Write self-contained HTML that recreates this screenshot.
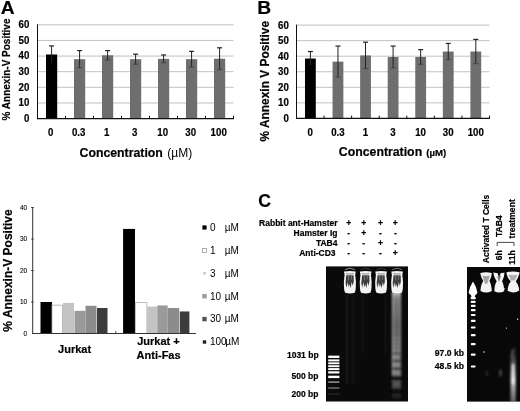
<!DOCTYPE html>
<html><head><meta charset="utf-8"><title>Figure</title>
<style>
html,body{margin:0;padding:0;background:#fff;}
body{width:520px;height:411px;overflow:hidden;font-family:"Liberation Sans",sans-serif;}
svg{display:block;}
text{font-family:"Liberation Sans",sans-serif;fill:#000;}
.b{font-weight:bold;stroke:#000;stroke-width:0.2px;}
</style></head><body>
<svg width="520" height="411" viewBox="0 0 520 411">
<defs>
<filter id="bl05" x="-20%" y="-20%" width="140%" height="140%"><feGaussianBlur stdDeviation="0.5"/></filter>
<filter id="bl1" x="-30%" y="-30%" width="160%" height="160%"><feGaussianBlur stdDeviation="0.9"/></filter>
<filter id="bl2" x="-50%" y="-50%" width="200%" height="200%"><feGaussianBlur stdDeviation="1.6"/></filter>
<filter id="tx" x="0" y="0" width="520" height="411" filterUnits="userSpaceOnUse"><feGaussianBlur stdDeviation="0.3"/></filter>
<linearGradient id="smear" x1="0" y1="0" x2="0" y2="1">
<stop offset="0" stop-color="#fff" stop-opacity="0.75"/>
<stop offset="0.06" stop-color="#eee" stop-opacity="0.5"/>
<stop offset="0.3" stop-color="#ddd" stop-opacity="0.42"/>
<stop offset="0.6" stop-color="#ddd" stop-opacity="0.45"/>
<stop offset="0.78" stop-color="#ccc" stop-opacity="0.4"/>
<stop offset="0.9" stop-color="#aaa" stop-opacity="0.25"/>
<stop offset="1" stop-color="#888" stop-opacity="0.08"/>
</linearGradient>
<linearGradient id="smear2" x1="0" y1="0" x2="0" y2="1">
<stop offset="0" stop-color="#888" stop-opacity="0.0"/>
<stop offset="0.25" stop-color="#aaa" stop-opacity="0.45"/>
<stop offset="0.6" stop-color="#fff" stop-opacity="0.8"/>
<stop offset="1" stop-color="#bbb" stop-opacity="0.5"/>
</linearGradient>
</defs>
<rect width="520" height="411" fill="#fff"/>

<g class="t">
<line x1="37.5" y1="102.97" x2="233.5" y2="102.97" stroke="#c2c2c2" stroke-width="1"/>
<line x1="37.5" y1="87.33" x2="233.5" y2="87.33" stroke="#c2c2c2" stroke-width="1"/>
<line x1="37.5" y1="71.70" x2="233.5" y2="71.70" stroke="#c2c2c2" stroke-width="1"/>
<line x1="37.5" y1="56.07" x2="233.5" y2="56.07" stroke="#c2c2c2" stroke-width="1"/>
<line x1="37.5" y1="40.43" x2="233.5" y2="40.43" stroke="#c2c2c2" stroke-width="1"/>
<line x1="37.5" y1="24.80" x2="233.5" y2="24.80" stroke="#c2c2c2" stroke-width="1"/>
<rect x="46.00" y="54.50" width="11.2" height="64.10" fill="#000"/>
<line x1="51.60" y1="45.91" x2="51.60" y2="63.10" stroke="#222" stroke-width="1"/>
<line x1="49.10" y1="45.91" x2="54.10" y2="45.91" stroke="#222" stroke-width="1.2"/>
<rect x="74.00" y="59.19" width="11.2" height="59.41" fill="#6e6e6e"/>
<line x1="79.60" y1="50.59" x2="79.60" y2="67.79" stroke="#222" stroke-width="1"/>
<line x1="77.10" y1="50.59" x2="82.10" y2="50.59" stroke="#222" stroke-width="1.2"/>
<line x1="77.10" y1="67.79" x2="82.10" y2="67.79" stroke="#444" stroke-width="1"/>
<rect x="102.00" y="55.28" width="11.2" height="63.31" fill="#6e6e6e"/>
<line x1="107.60" y1="50.59" x2="107.60" y2="59.97" stroke="#222" stroke-width="1"/>
<line x1="105.10" y1="50.59" x2="110.10" y2="50.59" stroke="#222" stroke-width="1.2"/>
<line x1="105.10" y1="59.97" x2="110.10" y2="59.97" stroke="#444" stroke-width="1"/>
<rect x="130.00" y="59.19" width="11.2" height="59.41" fill="#6e6e6e"/>
<line x1="135.60" y1="54.19" x2="135.60" y2="64.20" stroke="#222" stroke-width="1"/>
<line x1="133.10" y1="54.19" x2="138.10" y2="54.19" stroke="#222" stroke-width="1.2"/>
<line x1="133.10" y1="64.20" x2="138.10" y2="64.20" stroke="#444" stroke-width="1"/>
<rect x="158.00" y="58.88" width="11.2" height="59.72" fill="#6e6e6e"/>
<line x1="163.60" y1="54.97" x2="163.60" y2="62.79" stroke="#222" stroke-width="1"/>
<line x1="161.10" y1="54.97" x2="166.10" y2="54.97" stroke="#222" stroke-width="1.2"/>
<line x1="161.10" y1="62.79" x2="166.10" y2="62.79" stroke="#444" stroke-width="1"/>
<rect x="186.00" y="59.19" width="11.2" height="59.41" fill="#6e6e6e"/>
<line x1="191.60" y1="51.38" x2="191.60" y2="67.01" stroke="#222" stroke-width="1"/>
<line x1="189.10" y1="51.38" x2="194.10" y2="51.38" stroke="#222" stroke-width="1.2"/>
<line x1="189.10" y1="67.01" x2="194.10" y2="67.01" stroke="#444" stroke-width="1"/>
<rect x="214.00" y="58.72" width="11.2" height="59.88" fill="#6e6e6e"/>
<line x1="219.60" y1="47.78" x2="219.60" y2="69.67" stroke="#222" stroke-width="1"/>
<line x1="217.10" y1="47.78" x2="222.10" y2="47.78" stroke="#222" stroke-width="1.2"/>
<line x1="217.10" y1="69.67" x2="222.10" y2="69.67" stroke="#444" stroke-width="1"/>
<line x1="37.5" y1="24.3" x2="37.5" y2="119.1" stroke="#111" stroke-width="1"/>
<line x1="37.0" y1="118.6" x2="234.0" y2="118.6" stroke="#111" stroke-width="1.2"/>
<line x1="65.50" y1="118.6" x2="65.50" y2="115.8" stroke="#111" stroke-width="1"/>
<line x1="93.50" y1="118.6" x2="93.50" y2="115.8" stroke="#111" stroke-width="1"/>
<line x1="121.50" y1="118.6" x2="121.50" y2="115.8" stroke="#111" stroke-width="1"/>
<line x1="149.50" y1="118.6" x2="149.50" y2="115.8" stroke="#111" stroke-width="1"/>
<line x1="177.50" y1="118.6" x2="177.50" y2="115.8" stroke="#111" stroke-width="1"/>
<line x1="205.50" y1="118.6" x2="205.50" y2="115.8" stroke="#111" stroke-width="1"/>
<line x1="233.50" y1="118.6" x2="233.50" y2="115.8" stroke="#111" stroke-width="1"/>
<line x1="296.5" y1="102.85" x2="489.5" y2="102.85" stroke="#c2c2c2" stroke-width="1"/>
<line x1="296.5" y1="87.30" x2="489.5" y2="87.30" stroke="#c2c2c2" stroke-width="1"/>
<line x1="296.5" y1="71.75" x2="489.5" y2="71.75" stroke="#c2c2c2" stroke-width="1"/>
<line x1="296.5" y1="56.20" x2="489.5" y2="56.20" stroke="#c2c2c2" stroke-width="1"/>
<line x1="296.5" y1="40.65" x2="489.5" y2="40.65" stroke="#c2c2c2" stroke-width="1"/>
<line x1="296.5" y1="25.10" x2="489.5" y2="25.10" stroke="#c2c2c2" stroke-width="1"/>
<rect x="304.99" y="58.53" width="10.8" height="59.87" fill="#000"/>
<line x1="310.39" y1="51.53" x2="310.39" y2="65.53" stroke="#222" stroke-width="1"/>
<line x1="307.89" y1="51.53" x2="312.89" y2="51.53" stroke="#222" stroke-width="1.2"/>
<rect x="332.56" y="61.64" width="10.8" height="56.76" fill="#6e6e6e"/>
<line x1="337.96" y1="46.09" x2="337.96" y2="77.19" stroke="#222" stroke-width="1"/>
<line x1="335.46" y1="46.09" x2="340.46" y2="46.09" stroke="#222" stroke-width="1.2"/>
<line x1="335.46" y1="77.19" x2="340.46" y2="77.19" stroke="#444" stroke-width="1"/>
<rect x="360.13" y="55.42" width="10.8" height="62.98" fill="#6e6e6e"/>
<line x1="365.53" y1="42.20" x2="365.53" y2="68.64" stroke="#222" stroke-width="1"/>
<line x1="363.03" y1="42.20" x2="368.03" y2="42.20" stroke="#222" stroke-width="1.2"/>
<line x1="363.03" y1="68.64" x2="368.03" y2="68.64" stroke="#444" stroke-width="1"/>
<rect x="387.70" y="56.98" width="10.8" height="61.42" fill="#6e6e6e"/>
<line x1="393.10" y1="46.09" x2="393.10" y2="67.86" stroke="#222" stroke-width="1"/>
<line x1="390.60" y1="46.09" x2="395.60" y2="46.09" stroke="#222" stroke-width="1.2"/>
<line x1="390.60" y1="67.86" x2="395.60" y2="67.86" stroke="#444" stroke-width="1"/>
<rect x="415.27" y="56.98" width="10.8" height="61.42" fill="#6e6e6e"/>
<line x1="420.67" y1="49.67" x2="420.67" y2="64.29" stroke="#222" stroke-width="1"/>
<line x1="418.17" y1="49.67" x2="423.17" y2="49.67" stroke="#222" stroke-width="1.2"/>
<line x1="418.17" y1="64.29" x2="423.17" y2="64.29" stroke="#444" stroke-width="1"/>
<rect x="442.84" y="51.53" width="10.8" height="66.87" fill="#6e6e6e"/>
<line x1="448.24" y1="43.45" x2="448.24" y2="59.62" stroke="#222" stroke-width="1"/>
<line x1="445.74" y1="43.45" x2="450.74" y2="43.45" stroke="#222" stroke-width="1.2"/>
<line x1="445.74" y1="59.62" x2="450.74" y2="59.62" stroke="#444" stroke-width="1"/>
<rect x="470.41" y="51.53" width="10.8" height="66.87" fill="#6e6e6e"/>
<line x1="475.81" y1="39.41" x2="475.81" y2="63.66" stroke="#222" stroke-width="1"/>
<line x1="473.31" y1="39.41" x2="478.31" y2="39.41" stroke="#222" stroke-width="1.2"/>
<line x1="473.31" y1="63.66" x2="478.31" y2="63.66" stroke="#444" stroke-width="1"/>
<line x1="296.5" y1="24.6" x2="296.5" y2="118.9" stroke="#111" stroke-width="1"/>
<line x1="296.0" y1="118.4" x2="490.0" y2="118.4" stroke="#111" stroke-width="1.2"/>
<line x1="324.07" y1="118.4" x2="324.07" y2="115.60000000000001" stroke="#111" stroke-width="1"/>
<line x1="351.64" y1="118.4" x2="351.64" y2="115.60000000000001" stroke="#111" stroke-width="1"/>
<line x1="379.21" y1="118.4" x2="379.21" y2="115.60000000000001" stroke="#111" stroke-width="1"/>
<line x1="406.79" y1="118.4" x2="406.79" y2="115.60000000000001" stroke="#111" stroke-width="1"/>
<line x1="434.36" y1="118.4" x2="434.36" y2="115.60000000000001" stroke="#111" stroke-width="1"/>
<line x1="461.93" y1="118.4" x2="461.93" y2="115.60000000000001" stroke="#111" stroke-width="1"/>
<line x1="489.50" y1="118.4" x2="489.50" y2="115.60000000000001" stroke="#111" stroke-width="1"/>
<line x1="32.7" y1="207" x2="32.7" y2="334.0" stroke="#333" stroke-width="1"/>
<line x1="32.2" y1="333.5" x2="195.8" y2="333.5" stroke="#333" stroke-width="1"/>
<line x1="31.200000000000003" y1="302.0" x2="33.7" y2="302.0" stroke="#333" stroke-width="1"/>
<line x1="31.200000000000003" y1="270.5" x2="33.7" y2="270.5" stroke="#333" stroke-width="1"/>
<line x1="31.200000000000003" y1="239.0" x2="33.7" y2="239.0" stroke="#333" stroke-width="1"/>
<line x1="31.200000000000003" y1="207.5" x2="33.7" y2="207.5" stroke="#333" stroke-width="1"/>
<rect x="40.5" y="302.00" width="11.5" height="31.50" fill="#000"/>
<rect x="52" y="305.15" width="10.5" height="28.35" fill="#fff" stroke="#aaa" stroke-width="0.8"/>
<rect x="63" y="302.94" width="11" height="30.56" fill="#c4c4c4"/>
<rect x="74.5" y="310.82" width="11" height="22.68" fill="#9a9a9a"/>
<rect x="85.5" y="305.78" width="11" height="27.72" fill="#8c8c8c"/>
<rect x="97" y="307.99" width="10.5" height="25.51" fill="#3c3c3c"/>
<rect x="123.1" y="228.92" width="11.9" height="104.58" fill="#000"/>
<rect x="135.3" y="302.63" width="11.6" height="30.87" fill="#fff" stroke="#aaa" stroke-width="0.8"/>
<rect x="147.1" y="306.57" width="10.2" height="26.93" fill="#c4c4c4"/>
<rect x="157.3" y="305.46" width="10.4" height="28.04" fill="#9a9a9a"/>
<rect x="167.7" y="307.99" width="11.5" height="25.51" fill="#8c8c8c"/>
<rect x="179.8" y="311.45" width="9.6" height="22.05" fill="#3c3c3c"/>
<line x1="32.2" y1="333.5" x2="195.8" y2="333.5" stroke="#333" stroke-width="1"/>
<rect x="115.3" y="331" width="1" height="2" fill="#555"/>
<rect x="202.4" y="225.4" width="4.2" height="4.2" fill="#000"/>
<rect x="202.5" y="248.4" width="4" height="4" fill="#fff" stroke="#999" stroke-width="0.8"/>
<rect x="203.2" y="272.0" width="2.6" height="2.6" fill="#c8c8c8"/>
<rect x="202.3" y="294.0" width="4.4" height="4.4" fill="#9a9a9a"/>
<rect x="202.3" y="316.90000000000003" width="4.4" height="4.4" fill="#555"/>
<rect x="202.8" y="340.3" width="3.4" height="3.4" fill="#222"/>
<path d="M497.2,246 v-3.6 h16.8 v3.6" fill="none" stroke="#333" stroke-width="0.9"/>
</g>
<g filter="url(#tx)">
<text class="b" x="0.8" y="13.9" font-size="19.2">A</text>
<text class="b" x="257.2" y="13.7" font-size="19.2">B</text>
<text class="b" x="258.2" y="206.7" font-size="17.6">C</text>
<text class="b" transform="translate(29.3,121.90) scale(0.95,1)" font-size="10.2" text-anchor="end">0</text>
<text class="b" transform="translate(29.3,106.27) scale(0.95,1)" font-size="10.2" text-anchor="end">10</text>
<text class="b" transform="translate(29.3,90.63) scale(0.95,1)" font-size="10.2" text-anchor="end">20</text>
<text class="b" transform="translate(29.3,75.00) scale(0.95,1)" font-size="10.2" text-anchor="end">30</text>
<text class="b" transform="translate(29.3,59.37) scale(0.95,1)" font-size="10.2" text-anchor="end">40</text>
<text class="b" transform="translate(29.3,43.73) scale(0.95,1)" font-size="10.2" text-anchor="end">50</text>
<text class="b" transform="translate(29.3,28.10) scale(0.95,1)" font-size="10.2" text-anchor="end">60</text>
<text class="b" transform="translate(50.70,135.8) scale(0.95,1)" font-size="10.2" text-anchor="middle">0</text>
<text class="b" transform="translate(78.70,135.8) scale(0.95,1)" font-size="10.2" text-anchor="middle">0.3</text>
<text class="b" transform="translate(106.70,135.8) scale(0.95,1)" font-size="10.2" text-anchor="middle">1</text>
<text class="b" transform="translate(134.70,135.8) scale(0.95,1)" font-size="10.2" text-anchor="middle">3</text>
<text class="b" transform="translate(162.70,135.8) scale(0.95,1)" font-size="10.2" text-anchor="middle">10</text>
<text class="b" transform="translate(190.70,135.8) scale(0.95,1)" font-size="10.2" text-anchor="middle">30</text>
<text class="b" transform="translate(218.70,135.8) scale(0.95,1)" font-size="10.2" text-anchor="middle">100</text>
<text class="b" transform="translate(9.7,69.5) rotate(-90)" font-size="10" text-anchor="middle">% Annexin-V Positive</text>
<text x="79.5" y="157" font-size="12.3" class="b">Concentration</text>
<text x="167.3" y="157" font-size="12" class="r" fill="#222">(µM)</text>
<text class="b" transform="translate(288.8,122.00) scale(0.95,1)" font-size="10.2" text-anchor="end">0</text>
<text class="b" transform="translate(288.8,106.45) scale(0.95,1)" font-size="10.2" text-anchor="end">10</text>
<text class="b" transform="translate(288.8,90.90) scale(0.95,1)" font-size="10.2" text-anchor="end">20</text>
<text class="b" transform="translate(288.8,75.35) scale(0.95,1)" font-size="10.2" text-anchor="end">30</text>
<text class="b" transform="translate(288.8,59.80) scale(0.95,1)" font-size="10.2" text-anchor="end">40</text>
<text class="b" transform="translate(288.8,44.25) scale(0.95,1)" font-size="10.2" text-anchor="end">50</text>
<text class="b" transform="translate(288.8,28.70) scale(0.95,1)" font-size="10.2" text-anchor="end">60</text>
<text class="b" transform="translate(310.29,135.8) scale(0.95,1)" font-size="10.2" text-anchor="middle">0</text>
<text class="b" transform="translate(337.86,135.8) scale(0.95,1)" font-size="10.2" text-anchor="middle">0.3</text>
<text class="b" transform="translate(365.43,135.8) scale(0.95,1)" font-size="10.2" text-anchor="middle">1</text>
<text class="b" transform="translate(393.00,135.8) scale(0.95,1)" font-size="10.2" text-anchor="middle">3</text>
<text class="b" transform="translate(420.57,135.8) scale(0.95,1)" font-size="10.2" text-anchor="middle">10</text>
<text class="b" transform="translate(448.14,135.8) scale(0.95,1)" font-size="10.2" text-anchor="middle">30</text>
<text class="b" transform="translate(475.71,135.8) scale(0.95,1)" font-size="10.2" text-anchor="middle">100</text>
<text class="b" transform="translate(269.3,81.2) rotate(-90)" font-size="11.9" text-anchor="middle">% Annexin V Positive</text>
<text x="338.8" y="156.2" font-size="12.3" class="b">Concentration</text>
<text x="426.3" y="156.2" font-size="9.6" class="b" fill="#222">(µM)</text>
<text x="27" y="335.7" font-size="6.4" text-anchor="end" fill="#222" stroke="#222" stroke-width="0.12">0</text>
<text x="27" y="304.2" font-size="6.4" text-anchor="end" fill="#222" stroke="#222" stroke-width="0.12">10</text>
<text x="27" y="272.7" font-size="6.4" text-anchor="end" fill="#222" stroke="#222" stroke-width="0.12">20</text>
<text x="27" y="241.2" font-size="6.4" text-anchor="end" fill="#222" stroke="#222" stroke-width="0.12">30</text>
<text x="27" y="209.7" font-size="6.4" text-anchor="end" fill="#222" stroke="#222" stroke-width="0.12">40</text>
<text class="b" x="74.6" y="352.8" font-size="11" text-anchor="middle">Jurkat</text>
<text class="b" x="158.4" y="345.2" font-size="11" text-anchor="middle">Jurkat +</text>
<text class="b" x="158.6" y="358.9" font-size="11" text-anchor="middle">Anti-Fas</text>
<text class="b" transform="translate(11.7,270.5) rotate(-90)" font-size="12" text-anchor="middle">% Annexin-V Positive</text>
<text x="210" y="230.8" font-size="10" fill="#1a1a1a">0</text>
<text x="224.7" y="230.8" font-size="10" fill="#1a1a1a">µM</text>
<text x="210" y="253.7" font-size="10" fill="#1a1a1a">1</text>
<text x="224.7" y="253.7" font-size="10" fill="#1a1a1a">µM</text>
<text x="210" y="276.6" font-size="10" fill="#1a1a1a">3</text>
<text x="224.7" y="276.6" font-size="10" fill="#1a1a1a">µM</text>
<text x="210" y="299.5" font-size="10" fill="#1a1a1a">10</text>
<text x="224.7" y="299.5" font-size="10" fill="#1a1a1a">µM</text>
<text x="210" y="322.4" font-size="10" fill="#1a1a1a">30</text>
<text x="224.7" y="322.4" font-size="10" fill="#1a1a1a">µM</text>
<text x="210" y="345.3" font-size="10" fill="#1a1a1a">100</text>
<text x="225.2" y="345.3" font-size="10" fill="#1a1a1a">µM</text>
<text class="b" x="337.5" y="226.0" font-size="8.5" text-anchor="end">Rabbit ant-Hamster</text>
<text class="b" x="348.7" y="225.7" font-size="8.5" text-anchor="middle">+</text>
<text class="b" x="363.7" y="225.7" font-size="8.5" text-anchor="middle">+</text>
<text class="b" x="380.5" y="225.7" font-size="8.5" text-anchor="middle">+</text>
<text class="b" x="395.3" y="225.7" font-size="8.5" text-anchor="middle">+</text>
<text class="b" x="337.5" y="236.1" font-size="8.5" text-anchor="end">Hamster Ig</text>
<text class="b" x="348.7" y="235.8" font-size="8.5" text-anchor="middle">-</text>
<text class="b" x="363.7" y="235.8" font-size="8.5" text-anchor="middle">+</text>
<text class="b" x="380.5" y="235.8" font-size="8.5" text-anchor="middle">-</text>
<text class="b" x="395.3" y="235.8" font-size="8.5" text-anchor="middle">-</text>
<text class="b" x="337.5" y="246.2" font-size="8.5" text-anchor="end">TAB4</text>
<text class="b" x="348.7" y="245.9" font-size="8.5" text-anchor="middle">-</text>
<text class="b" x="363.7" y="245.9" font-size="8.5" text-anchor="middle">-</text>
<text class="b" x="380.5" y="245.9" font-size="8.5" text-anchor="middle">+</text>
<text class="b" x="395.3" y="245.9" font-size="8.5" text-anchor="middle">-</text>
<text class="b" x="335.6" y="256.3" font-size="8.5" text-anchor="end">Anti-CD3</text>
<text class="b" x="348.7" y="256.0" font-size="8.5" text-anchor="middle">-</text>
<text class="b" x="363.7" y="256.0" font-size="8.5" text-anchor="middle">-</text>
<text class="b" x="380.5" y="256.0" font-size="8.5" text-anchor="middle">-</text>
<text class="b" x="395.3" y="256.0" font-size="8.5" text-anchor="middle">+</text>
<text class="b" x="318.6" y="358.3" font-size="8.5" text-anchor="end">1031 bp</text>
<text class="b" x="318.4" y="379.4" font-size="8.5" text-anchor="end">500 bp</text>
<text class="b" x="318.4" y="396.8" font-size="8.5" text-anchor="end">200 bp</text>
<text class="b" x="464" y="356.4" font-size="8.6" text-anchor="end">97.0 kb</text>
<text class="b" x="464" y="368.6" font-size="8.6" text-anchor="end">48.5 kb</text>
<text class="b" transform="translate(488.6,263.2) rotate(-90)" font-size="8.5">Activated T Cells</text>
<text class="b" transform="translate(501.9,250.3) rotate(-90)" font-size="8.6" text-anchor="end">6h</text>
<text class="b" transform="translate(515.3,250.3) rotate(-90)" font-size="8.6" text-anchor="end">11h</text>
<text class="b" transform="translate(501.9,237) rotate(-90)" font-size="8.6">TAB4</text>
<text class="b" transform="translate(515.3,238.4) rotate(-90)" font-size="8.6">treatment</text>
</g>
<rect x="326" y="266.4" width="82" height="135.1" fill="#0a0a0a"/>
<g filter="url(#bl05)">
<path d="M345.0,269.6 q4.9,-2.6 9.8,0" fill="none" stroke="#ddd" stroke-width="0.7" opacity="0.9"/>
<path d="M344.0,271.6 q5.9,-1.2 11.8,0 q-0.9,3 -0.3,6 q0.8,5 0.3,9.5 q-0.2,4.5 -1.2,5.6 q-4.7,1.6 -9.4,0 q-1,-1.1 -1.2,-5.6 q-0.5,-4.5 0.3,-9.5 q0.6,-3 -0.3,-6 z" fill="#f3f3f3"/>
<path d="M346.2,273.4 q3.7,1.2 7.4,0" fill="none" stroke="#8a8a8a" stroke-width="1.1"/>
<path d="M346.2,275.2 l7.4,0 l0.2,6.5 l-1.2,4 l-0.9,-4 l-1,6.5 l-1.1,-4 l-0.9,3 l-1,-5 l-1.2,5.5 l-0.9,-4.5 z" fill="#181818" opacity="0.82" filter="url(#bl05)"/>
<path d="M348.4,275.5 l0.3,5 M351.5,275.5 l-0.2,4" fill="none" stroke="#bbb" stroke-width="0.7" opacity="0.7"/>
<path d="M360.9,269.6 q4.8,-2.6 9.6,0" fill="none" stroke="#ddd" stroke-width="0.7" opacity="0.3"/>
<path d="M359.9,271.6 q5.8,-1.2 11.6,0 q-0.9,3 -0.3,6 q0.8,5 0.3,9.5 q-0.2,4.5 -1.2,5.6 q-4.6,1.6 -9.2,0 q-1,-1.1 -1.2,-5.6 q-0.5,-4.5 0.3,-9.5 q0.6,-3 -0.3,-6 z" fill="#f3f3f3"/>
<path d="M362.09999999999997,273.4 q3.5999999999999996,1.2 7.199999999999999,0" fill="none" stroke="#8a8a8a" stroke-width="1.1"/>
<path d="M362.09999999999997,275.2 l7.199999999999999,0 l0.2,6.5 l-1.2,4 l-0.9,-4 l-1,6.5 l-1.1,-4 l-0.9,3 l-1,-5 l-1.2,5.5 l-0.9,-4.5 z" fill="#181818" opacity="0.82" filter="url(#bl05)"/>
<path d="M364.2,275.5 l0.3,5 M367.3,275.5 l-0.2,4" fill="none" stroke="#bbb" stroke-width="0.7" opacity="0.7"/>
<path d="M376.3,269.6 q4.8,-2.6 9.6,0" fill="none" stroke="#ddd" stroke-width="0.7" opacity="0.3"/>
<path d="M375.3,271.6 q5.8,-1.2 11.6,0 q-0.9,3 -0.3,6 q0.8,5 0.3,9.5 q-0.2,4.5 -1.2,5.6 q-4.6,1.6 -9.2,0 q-1,-1.1 -1.2,-5.6 q-0.5,-4.5 0.3,-9.5 q0.6,-3 -0.3,-6 z" fill="#f3f3f3"/>
<path d="M377.5,273.4 q3.5999999999999996,1.2 7.199999999999999,0" fill="none" stroke="#8a8a8a" stroke-width="1.1"/>
<path d="M377.5,275.2 l7.199999999999999,0 l0.2,6.5 l-1.2,4 l-0.9,-4 l-1,6.5 l-1.1,-4 l-0.9,3 l-1,-5 l-1.2,5.5 l-0.9,-4.5 z" fill="#181818" opacity="0.82" filter="url(#bl05)"/>
<path d="M379.6,275.5 l0.3,5 M382.70000000000005,275.5 l-0.2,4" fill="none" stroke="#bbb" stroke-width="0.7" opacity="0.7"/>
<path d="M392.3,269.6 q4.8,-2.6 9.6,0" fill="none" stroke="#ddd" stroke-width="0.7" opacity="0.7"/>
<path d="M391.3,271.6 q5.8,-1.2 11.6,0 q-0.9,3 -0.3,6 q0.8,5 0.3,9.5 q-0.2,4.5 -1.2,5.6 q-4.6,1.6 -9.2,0 q-1,-1.1 -1.2,-5.6 q-0.5,-4.5 0.3,-9.5 q0.6,-3 -0.3,-6 z" fill="#f3f3f3"/>
<path d="M393.5,273.4 q3.5999999999999996,1.2 7.199999999999999,0" fill="none" stroke="#8a8a8a" stroke-width="1.1"/>
<path d="M393.5,275.2 l7.199999999999999,0 l0.2,6.5 l-1.2,4 l-0.9,-4 l-1,6.5 l-1.1,-4 l-0.9,3 l-1,-5 l-1.2,5.5 l-0.9,-4.5 z" fill="#181818" opacity="0.82" filter="url(#bl05)"/>
<path d="M395.6,275.5 l0.3,5 M398.70000000000005,275.5 l-0.2,4" fill="none" stroke="#bbb" stroke-width="0.7" opacity="0.7"/>
</g>
<g filter="url(#bl1)">
<rect x="392" y="292" width="9" height="106" fill="url(#smear)"/>
<rect x="391.9" y="292" width="1.3" height="82" fill="#fff" opacity="0.4"/>
<rect x="400" y="292" width="1.1" height="60" fill="#fff" opacity="0.25"/>
<rect x="346.5" y="294" width="1" height="90" fill="#555" opacity="0.45"/>
<rect x="352.5" y="294" width="1" height="90" fill="#555" opacity="0.35"/>
<rect x="362" y="294" width="1" height="60" fill="#444" opacity="0.3"/>
<rect x="385" y="294" width="1" height="60" fill="#444" opacity="0.3"/>
<rect x="392.4" y="337.0" width="8.4" height="2" fill="#fff" opacity="0.1"/>
<rect x="392.4" y="341.0" width="8.4" height="2" fill="#fff" opacity="0.12"/>
<rect x="392.4" y="345.0" width="8.4" height="2" fill="#fff" opacity="0.14"/>
<rect x="392.4" y="348.9" width="8.4" height="2.2" fill="#fff" opacity="0.16"/>
<rect x="392.4" y="355.40000000000003" width="8.4" height="3.4" fill="#fff" opacity="0.22"/>
<rect x="392.4" y="363.0" width="8.4" height="3.8" fill="#fff" opacity="0.25"/>
<rect x="392.4" y="370.7" width="8.4" height="4" fill="#fff" opacity="0.28"/>
<rect x="392.4" y="382.5" width="8.4" height="4.4" fill="#fff" opacity="0.14"/>
<rect x="392.4" y="395.5" width="8.4" height="3" fill="#fff" opacity="0.05"/>
<rect x="391" y="353.4" width="11.5" height="1.6" fill="#000" opacity="0.3"/>
<rect x="391" y="360.0" width="11.5" height="2" fill="#000" opacity="0.4"/>
<rect x="391" y="367.7" width="11.5" height="2.2" fill="#000" opacity="0.5"/>
<rect x="391" y="375.7" width="11.5" height="5.2" fill="#000" opacity="0.7"/>
<rect x="391" y="388.2" width="11.5" height="6" fill="#000" opacity="0.7"/>
</g>
<g filter="url(#bl05)">
<rect x="328.2" y="355.65000000000003" width="11.2" height="2.3" fill="#fff" opacity="1"/>
<rect x="328.2" y="359.4" width="11.2" height="2.0" fill="#fff" opacity="1"/>
<rect x="328.2" y="362.35" width="11.2" height="1.9" fill="#fff" opacity="1"/>
<rect x="328.2" y="365.25" width="11.2" height="1.9" fill="#fff" opacity="1"/>
<rect x="328.2" y="368.1" width="11.2" height="2.0" fill="#fff" opacity="1"/>
<rect x="328.2" y="371.29999999999995" width="11.2" height="2.2" fill="#fff" opacity="1"/>
<rect x="328.2" y="375.7" width="11.2" height="2.4" fill="#fff" opacity="1"/>
<rect x="328.2" y="381.25" width="11.2" height="1.7" fill="#fff" opacity="0.5"/>
<rect x="328.2" y="387.2" width="11.2" height="1.6" fill="#fff" opacity="0.38"/>
<rect x="328.2" y="393.25" width="11.2" height="1.5" fill="#fff" opacity="0.1"/>
</g>
<rect x="467" y="267" width="53" height="134.6" fill="#080808"/>
<g filter="url(#bl05)">
<path d="M480.3,273 q5.8,-1.4 11.5,0 q-0.2,4.5 -2.4,8 q2,3.2 2.4,10 q-5.7,3.2 -11.3,0 q0.2,-6.5 2.8,-10 q-2.6,-3.5 -3,-8 z" fill="#f4f4f4"/>
<path d="M482.3,275.6 q3.8,1 7.6,0 l-1.6,5 l-1,3.2 l-2.4,0 l-0.8,-3.2 z" fill="#8c8c8c" opacity="0.75"/>
<path d="M493.3,272.6 l4.4,0.6 l1.4,4.5 l1.6,-4.6 l3.8,-0.4 q-0.3,5 -2.4,8.6 q1.9,3.4 2.1,9.9 q-5.1,2.8 -9.8,0 q0,-6.3 2.3,-9.9 q-3,-4 -3.4,-8.7 z" fill="#f4f4f4"/>
<path d="M497.2,276.5 l1.8,6 l2,-6.4 z" fill="#555" opacity="0.7"/>
<path d="M506.6,272.2 q6.4,-1.6 12.8,0 l0,1.6 q-1.6,5.2 -3.6,7.8 q3,3.2 3.4,8.9 q-5.6,3.8 -11.6,0.2 q0.4,-6.1 3.2,-9.1 q-3.4,-3.6 -4.2,-7.6 z" fill="#f4f4f4"/>
<path d="M508.6,274.8 q4.4,0.8 8.8,0 l-2.4,5.6 l-4,0 z" fill="#999" opacity="0.75"/>
<path d="M468.6,292.5 q0.6,-5 4.4,-11 q3.4,5 4.4,11 q-0.6,2.2 -2.2,2.4 l-0.4,2 l-3.4,0 l-0.4,-2 q-1.8,-0.4 -2.4,-2.4 z" fill="#fff"/>
<rect x="470.5" y="297.09999999999997" width="5.4" height="2.2" rx="1" fill="#fff"/>
<rect x="470.7" y="300.79999999999995" width="5" height="2.2" rx="1" fill="#fff"/>
<rect x="470.8" y="304.7" width="4.8" height="2.2" rx="1" fill="#fff"/>
<rect x="470.8" y="309.09999999999997" width="4.8" height="2.2" rx="1" fill="#fff"/>
<rect x="470.8" y="313.9" width="4.8" height="2.2" rx="1" fill="#fff"/>
<rect x="470.8" y="319.79999999999995" width="4.8" height="2.2" rx="1" fill="#fff"/>
<rect x="470.8" y="326.4" width="4.8" height="2.2" rx="1" fill="#fff"/>
<rect x="470.8" y="334.09999999999997" width="4.8" height="2.2" rx="1" fill="#fff"/>
<rect x="470.8" y="343.09999999999997" width="4.8" height="2.2" rx="1" fill="#fff"/>
<rect x="470.8" y="353.59999999999997" width="4.8" height="2.2" rx="1" fill="#fff"/>
<rect x="470.8" y="365.4" width="4.8" height="2.2" rx="1" fill="#fff"/>
<circle cx="483.9" cy="352.1" r="0.75" fill="#eee"/>
<circle cx="506.4" cy="328.1" r="0.6" fill="#eee"/>
<circle cx="517.7" cy="319.3" r="0.7" fill="#eee"/>
<circle cx="504.6" cy="288.8" r="0.6" fill="#eee"/>
</g>
<g filter="url(#bl1)">
<rect x="510.6" y="347" width="5.2" height="55" fill="url(#smear2)"/>
<rect x="511.6" y="364" width="2.8" height="20" fill="#fff" opacity="0.7"/>
<path d="M514.5,349 q-3.5,3 -2.5,9" fill="none" stroke="#999" stroke-width="1.2" opacity="0.6"/>
<rect x="499" y="369.5" width="3" height="7" fill="#888" opacity="0.4"/>
<rect x="486" y="371" width="1.4" height="5" fill="#888" opacity="0.4"/>
</g>
</svg></body></html>
